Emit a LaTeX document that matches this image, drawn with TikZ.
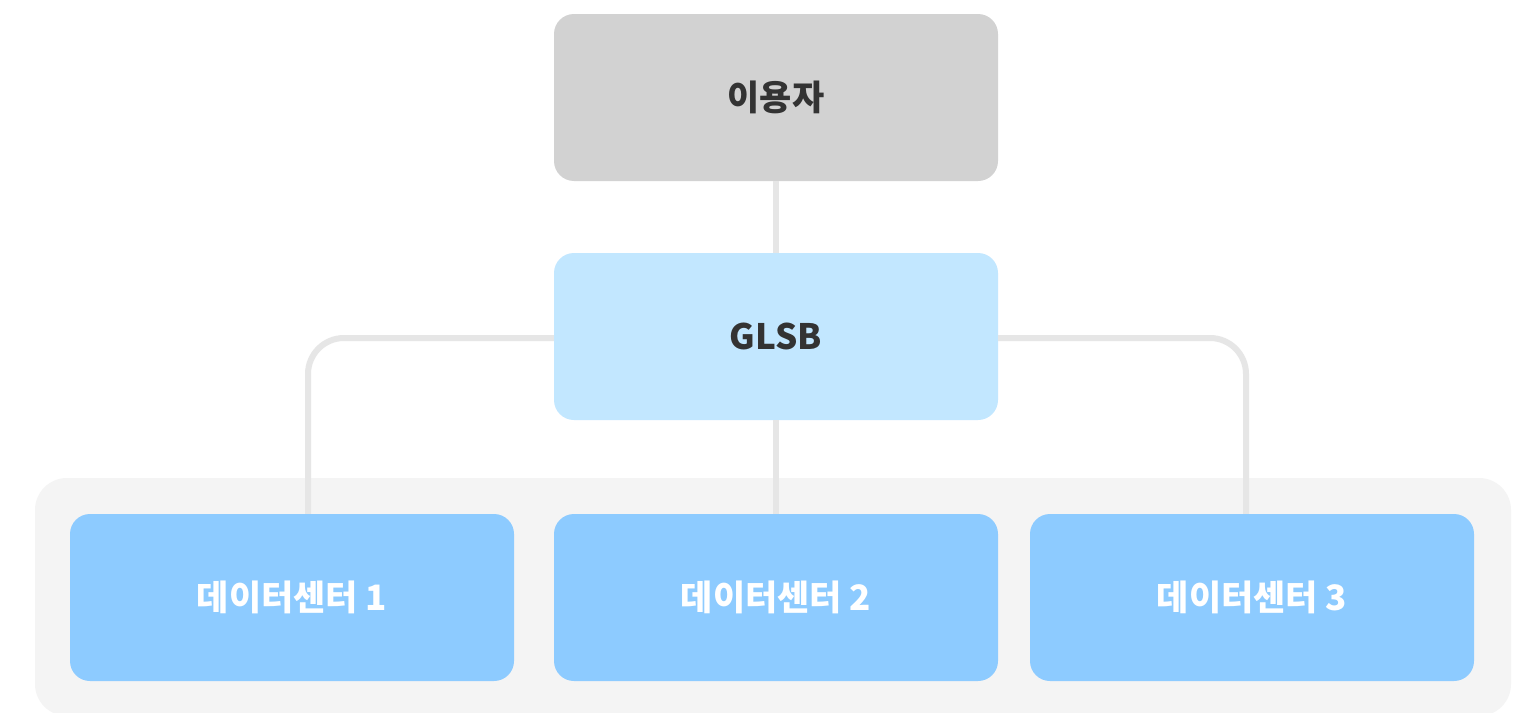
\documentclass[tikz,border=0pt]{standalone}
\usepackage{fontspec}
\newfontfamily\kr{Noto Sans CJK KR}
\definecolor{userfill}{HTML}{D2D2D2}
\definecolor{glsbfill}{HTML}{C2E7FF}
\definecolor{dcfill}{HTML}{8DCBFF}
\definecolor{groupfill}{HTML}{F4F4F4}
\definecolor{linkcol}{HTML}{E6E6E6}
\definecolor{darktext}{HTML}{333333}
\tikzset{
  box/.style={rounded corners=20pt, minimum width=444pt, minimum height=167pt, inner sep=0pt, font=\kr\fontsize{35pt}{40pt}\selectfont\bfseries},
  userbox/.style={box, fill=userfill, text=darktext},
  glsbbox/.style={box, fill=glsbfill, text=darktext},
  dcbox/.style={box, fill=dcfill, text=white},
  link/.style={draw=linkcol, line width=6pt},
}
\begin{document}
\begin{tikzpicture}[x=1pt,y=-1pt]
\useasboundingbox (0,0) rectangle (1533,712);
\fill[white] (0,0) rectangle (1533,712);
\begin{scope}
\clip (0,0) rectangle (1533,712);
\fill[groupfill, rounded corners=32pt] (35,478) rectangle (1511,716);
\end{scope}
\node[userbox] (user) at (776,97.5) {이용자};
\node[glsbbox] (glsb) at (776,336.5) {GLSB};
\node[dcbox] (dc1) at (292,597.5) {데이터센터 1};
\node[dcbox] (dc2) at (776,597.5) {데이터센터 2};
\node[dcbox] (dc3) at (1252,597.5) {데이터센터 3};
\coordinate (lc) at (308,338);
\coordinate (rc) at (1246,338);
\draw[link] (user.south) -- (glsb.north);
\draw[link] (glsb.south) -- (dc2.north);
\draw[link, rounded corners=36pt] (glsb.west |- lc) -- (lc) -- (lc |- dc1.north);
\draw[link, rounded corners=36pt] (glsb.east |- rc) -- (rc) -- (rc |- dc3.north);
\end{tikzpicture}
\end{document}
